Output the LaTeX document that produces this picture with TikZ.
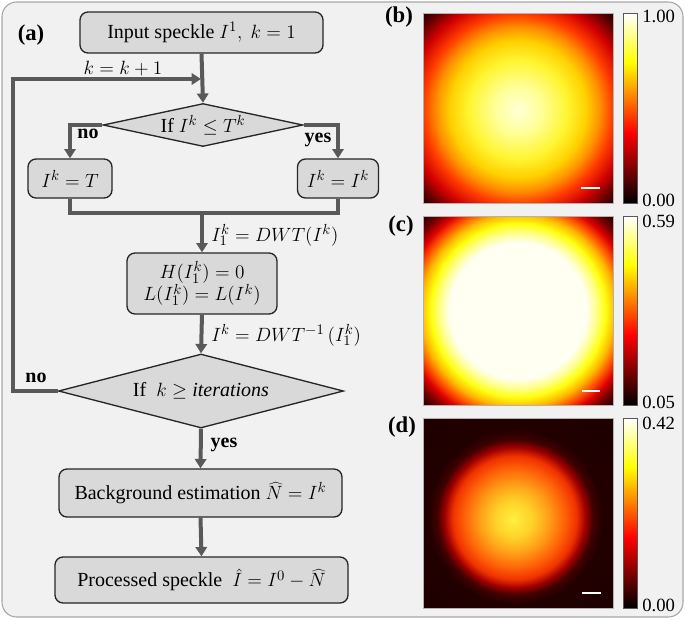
\documentclass[tikz,border=0pt]{standalone}
\usepackage{fontspec}
\setmainfont{Liberation Serif}
\usetikzlibrary{arrows.meta,shapes.geometric}

\definecolor{panelbg}{HTML}{F1F1F1}
\definecolor{panelborder}{HTML}{A6A6A6}
\definecolor{boxfill}{HTML}{D9D9D9}
\definecolor{boxdraw}{HTML}{262626}
\definecolor{linecol}{HTML}{595959}

\definecolor{bA}{HTML}{FFFFD8}\definecolor{bB}{HTML}{FFFF9A}\definecolor{bC}{HTML}{FFF530}
\definecolor{bD}{HTML}{FFD000}\definecolor{bE}{HTML}{FF9000}\definecolor{bF}{HTML}{FF3A00}
\definecolor{bG}{HTML}{D00000}\definecolor{bH}{HTML}{5A0000}\definecolor{bI}{HTML}{1A0000}

\definecolor{cA}{HTML}{FFFFF2}\definecolor{cB}{HTML}{FFFF90}\definecolor{cC}{HTML}{FFFF10}
\definecolor{cD}{HTML}{FFB800}\definecolor{cE}{HTML}{FF5500}\definecolor{cF}{HTML}{E00000}
\definecolor{cG}{HTML}{7A0000}\definecolor{cH}{HTML}{100000}

\definecolor{dA}{HTML}{FFF040}\definecolor{dB}{HTML}{FFD028}\definecolor{dC}{HTML}{FFA018}
\definecolor{dD}{HTML}{FF6408}\definecolor{dE}{HTML}{F03200}\definecolor{dF}{HTML}{A00000}
\definecolor{dG}{HTML}{420000}\definecolor{dH}{HTML}{220000}\definecolor{dI}{HTML}{1C0000}

% the path's bounding box maps to the central 50bp x 50bp square
\pgfdeclareradialshading{shadeB}{\pgfpoint{0bp}{-0.5bp}}{color(0bp)=(bA); color(6bp)=(bB); color(13bp)=(bC); color(18bp)=(bD); color(21.5bp)=(bE); color(25bp)=(bF); color(29bp)=(bG); color(33bp)=(bH); color(36bp)=(bI); color(50bp)=(bI)}
\pgfdeclareradialshading{shadeC}{\pgfpoint{0bp}{0bp}}{color(0bp)=(cA); color(18bp)=(cA); color(20.5bp)=(cB); color(23bp)=(cC); color(25.5bp)=(cD); color(27.75bp)=(cE); color(30bp)=(cF); color(32.25bp)=(cG); color(36bp)=(cH); color(50bp)=(cH)}
\pgfdeclareradialshading{shadeD}{\pgfpoint{-1.3bp}{-1.85bp}}{color(0bp)=(dA); color(5bp)=(dB); color(9bp)=(dC); color(13bp)=(dD); color(16.25bp)=(dE); color(18.5bp)=(dF); color(20.5bp)=(dG); color(23bp)=(dH); color(38bp)=(dI); color(50bp)=(dI)}
\pgfdeclareverticalshading{hotbar}{100bp}{color(0bp)=(black); color(25bp)=(black); color(43.5bp)=(red); color(62bp)=(yellow); color(75bp)=(white); color(100bp)=(white)}

\begin{document}
\begin{tikzpicture}[x=0.75pt,y=-0.75pt,
  font=\fontsize{15}{18}\selectfont,
  box/.style={draw=boxdraw, fill=boxfill, rounded corners=6pt, line width=1pt, inner sep=2pt},
  dia/.style={diamond, draw=boxdraw, fill=boxfill, line width=1pt, inner sep=0pt},
  conn/.style={draw=linecol, line width=3pt, -{Triangle[length=7pt,width=8.5pt]}},
  plain/.style={draw=linecol, line width=3pt},
  lbl/.style={inner sep=0pt, font=\fontsize{15}{18}\selectfont\bfseries},
  plbl/.style={inner sep=0pt, font=\fontsize{17}{20}\selectfont\bfseries},
  cbl/.style={inner sep=0pt, anchor=west, font=\fontsize{14}{16}\selectfont},
  img/.style={draw=gray!60, line width=0.4pt},
  cbar/.style={shading=hotbar, draw=gray!70!black, line width=0.5pt},
  sbar/.style={draw=white, line width=1.8pt}
]
\useasboundingbox (0,0) rectangle (685,619);
\draw[panelborder, fill=panelbg, line width=0.8pt, rounded corners=11pt] (2,2) rectangle (683,617);

% flowchart
\node[plbl] (la) at (31,35) {(a)};
\node[box, minimum width=182.25pt, minimum height=30.75pt] (in) at (201.5,32.5) {Input speckle $I^1,\ k = 1$};
\node[dia, aspect=4.65, minimum width=150pt, minimum height=32.25pt] (d1) at (203,125) {If $I^k \leq T^k$};
\node[box, minimum width=63pt, minimum height=29.25pt] (lb) at (70,178.5) {$I^k = T$};
\node[box, minimum width=60.75pt, minimum height=29.25pt] (rb) at (338,178.5) {$I^k = I^k$};
\node[box, minimum width=112.5pt, minimum height=45.75pt, align=center] (mid) at (202,283.5) {$H\bigl(I_1^k\bigr) = 0$\\[-1pt]$L(I_1^k) = L(I^k)$};
\node[dia, aspect=3.85, minimum width=213.75pt, minimum height=55.5pt] (d2) at (201,391) {If \ $k \geq \mathit{iterations}$};
\node[box, minimum width=212.25pt, minimum height=36pt] (bg) at (200.5,493) {Background estimation $\widehat{N} = I^k$};
\node[box, minimum width=219.75pt, minimum height=34.5pt] (pr) at (201.5,580) {Processed speckle \ $\hat{I} = I^0 - \widehat{N}$};

\coordinate (loopend) at (201,79);
\coordinate (merge) at (202,213);

\draw[conn] (in.south) -- (d1.north);
\draw[conn] (d2.west) -- ++(-44.5,0) |- (loopend);
\draw[conn] (d1.west) -| (lb.north);
\draw[conn] (d1.east) -| (rb.north);
\draw[plain] (lb.south) -- ++(0,14.5) -| (rb.south);
\draw[conn] (merge) -- (mid.north);
\draw[conn] (mid.south) -- (d2.north);
\draw[conn] (d2.south) -- (bg.north);
\draw[conn] (bg.south) -- (pr.north);

\node[inner sep=0pt] (kk) at (123,69) {$k = k + 1$};
\node[lbl] (no1) at (88,134) {no};
\node[lbl] (yes1) at (318,140) {yes};
\node[inner sep=0pt, anchor=west] (t1) at (211,235) {$I_1^k = DWT(I^k)$};
\node[inner sep=0pt, anchor=west] (t2) at (211,335) {$I^k = DWT^{-1}\,(I_1^k)$};
\node[lbl] (no2) at (36,378) {no};
\node[lbl] (yes2) at (224,445) {yes};

% panel (b)
\node[plbl] (lbb) at (399,17) {(b)};
\shade[shading=shadeB] (423,13) rectangle (613,203);
\draw[img] (423,13) rectangle (613,203);
\draw[sbar] (581,188) -- (600,188);
\shadedraw[cbar] (623,13) rectangle (637,203);
\node[cbl] at (642,16) {1.00};
\node[cbl] at (642,200) {0.00};

% panel (c)
\node[plbl] (lbc) at (401,226) {(c)};
\shade[shading=shadeC] (423,216) rectangle (613,405);
\draw[img] (423,216) rectangle (613,405);
\draw[sbar] (582,391) -- (600,391);
\shadedraw[cbar] (623,216) rectangle (637,405);
\node[cbl] at (642,221) {0.59};
\node[cbl] at (642,402) {0.05};

% panel (d)
\node[plbl] (lbd) at (402,427) {(d)};
\shade[shading=shadeD] (423,418) rectangle (613,608);
\draw[img] (423,418) rectangle (613,608);
\draw[sbar] (582,593) -- (601,593);
\shadedraw[cbar] (623,418) rectangle (637,608);
\node[cbl] at (642,423) {0.42};
\node[cbl] at (642,605) {0.00};
\end{tikzpicture}
\end{document}
